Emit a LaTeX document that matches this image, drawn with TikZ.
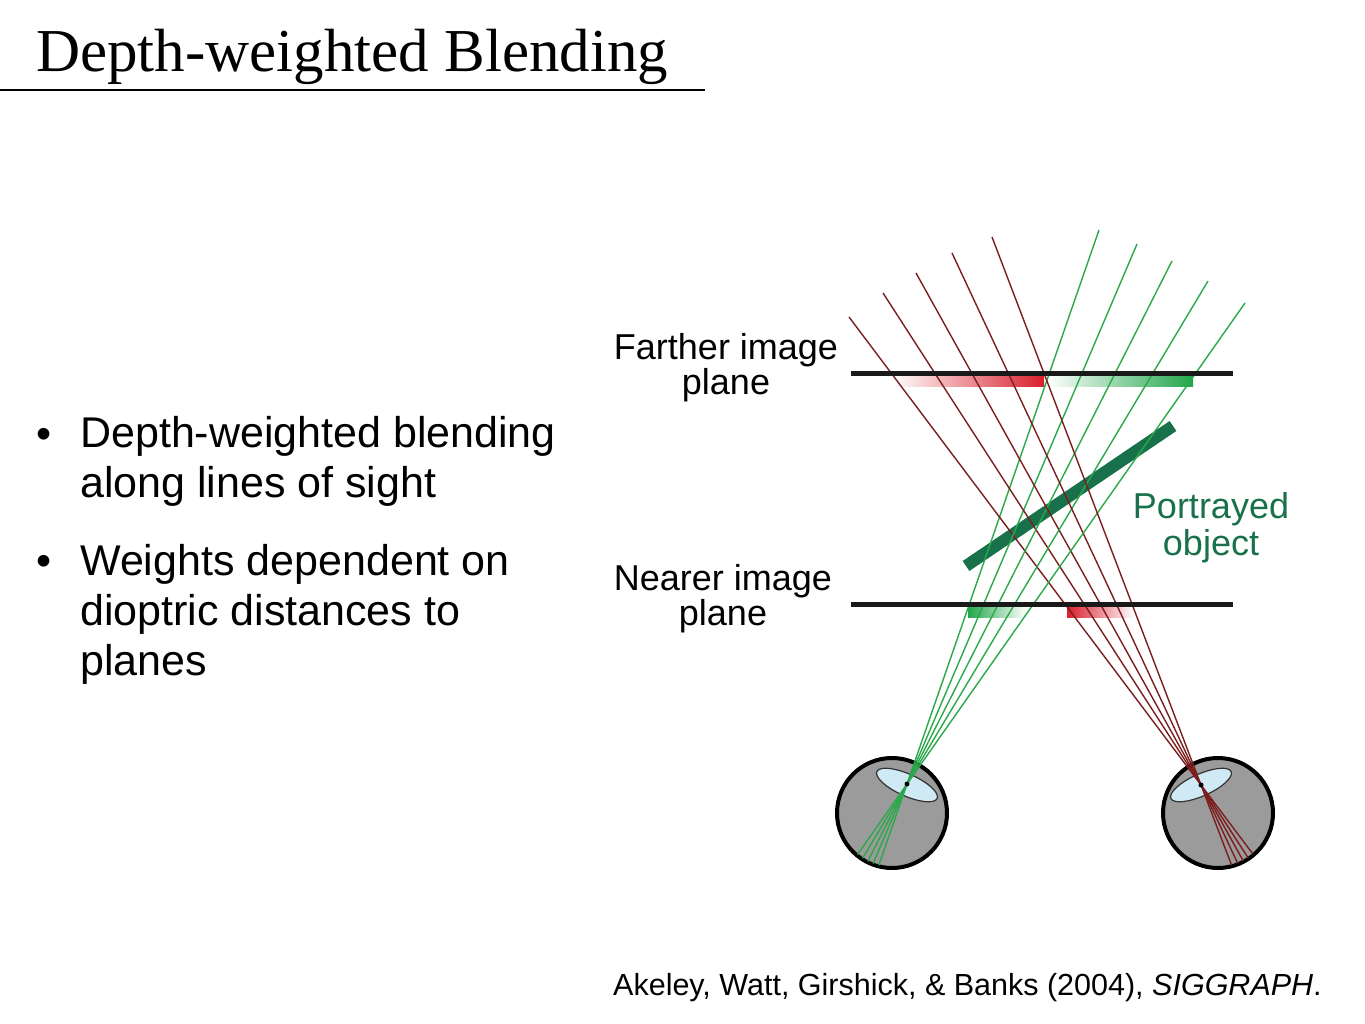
\documentclass[tikz,border=0pt]{standalone}
\usepackage{fontspec}
\setmainfont{Liberation Serif}
\newfontfamily\arial{Liberation Sans}
\usetikzlibrary{calc,shapes.geometric}

\definecolor{barred}{HTML}{D91F2D}
\definecolor{bargreen}{HTML}{22A64B}
\definecolor{rayred}{HTML}{7B1E1E}
\definecolor{raygreen}{HTML}{2BA84A}
\definecolor{objgreen}{HTML}{18714A}
\definecolor{eyegray}{HTML}{9B9B9B}
\definecolor{lensblue}{HTML}{CFEAF4}

\begin{document}
\begin{tikzpicture}[x=1pt, y=-1pt,
  every node/.style={inner sep=0pt},
  planelabel/.style={font=\arial\fontsize{36}{35}\selectfont, align=center, anchor=base},
  bullettext/.style={font=\arial\fontsize{43}{50}\selectfont, align=left, anchor=base west},
  plane/.style={line width=5pt, draw=black!90},
  redray/.style={draw=rayred, line width=1.4pt},
  greenray/.style={draw=raygreen, line width=1.4pt},
  eye/.style={circle, draw, line width=4pt, fill=eyegray, minimum size=110pt},
  lens/.style={ellipse, draw=black!80, line width=1.2pt, fill=lensblue,
    minimum width=66pt, minimum height=22pt}]
  \useasboundingbox (0,0) rectangle (1365,1024);

  % title
  \node[anchor=base west, font=\fontsize{61}{61}\selectfont] (title) at (36,72) {Depth-weighted Blending};
  \draw[line width=1.2pt] (0,90) -- (705,90);

  % bullets (base = last line)
  \node[bullettext] (dot1) at (36,448) {•};
  \node[bullettext] (item1) at (80,497) {Depth-weighted blending\\along lines of sight};
  \node[bullettext] (dot2) at (36,575) {•};
  \node[bullettext] (item2) at (80,675) {Weights dependent on\\dioptric distances to\\planes};

  % labels
  \node[planelabel] (farther) at (726,394) {Farther image\\plane};
  \node[planelabel] (nearer) at (723,625) {Nearer image\\plane};
  \node[planelabel, text=objgreen, font=\arial\fontsize{36}{37}\selectfont] (object) at (1211,555) {Portrayed\\object};

  % blended images on the planes
  \shade[left color=barred!3, right color=barred] (897,375) rectangle (1044,386);
  \shade[left color=white, right color=bargreen] (1047,375) rectangle (1193,386);
  \shade[left color=bargreen, right color=white] (968,606) rectangle (1026,617);
  \shade[left color=barred, right color=white] (1067,606) rectangle (1134,617);

  % portrayed object
  \coordinate (objA) at (966,566);
  \coordinate (objB) at (1173,426);
  \draw[objgreen, line width=12pt] (objA) -- (objB);

  % eyes
  \node[eye] (eyeL) at (892,813) {};
  \node[eye] (eyeR) at (1218,813) {};
  \node[lens, rotate=-24] (lensL) at (907,785) {};
  \node[lens, rotate=24] (lensR) at (1201,785) {};
  \coordinate (nodL) at (907,784);
  \coordinate (nodR) at (1201,785);

  % lines of sight
  \foreach \x/\y [count=\i] in {1099/230, 1137/244, 1172/261, 1208/281, 1245/303}
    \coordinate (g\i) at (\x,\y);
  \foreach \x/\y [count=\i] in {849/317, 883/293, 916/273, 952/253, 992/237}
    \coordinate (r\i) at (\x,\y);
  \foreach \i in {1,...,5} {
    \draw[greenray] (g\i) -- (nodL);
    \draw[redray] (r\i) -- (nodR);
  }
  \begin{scope}
    \clip (eyeL.center) circle (54pt);
    \foreach \i in {1,...,5}
      \draw[greenray] (nodL) -- ($(nodL)!-0.3!(g\i)$);
  \end{scope}
  \begin{scope}
    \clip (eyeR.center) circle (54pt);
    \foreach \i in {1,...,5}
      \draw[redray] (nodR) -- ($(nodR)!-0.3!(r\i)$);
  \end{scope}
  \fill (nodL) circle (2.5pt);
  \fill (nodR) circle (2.5pt);

  % image planes
  \coordinate (farL) at (851,373);
  \coordinate (farR) at (1233,373);
  \coordinate (nearL) at (851,604);
  \coordinate (nearR) at (1233,604);
  \draw[plane] (farL) -- (farR);
  \draw[plane] (nearL) -- (nearR);

  % reference
  \node[anchor=base west, font=\arial\fontsize{30.5}{30.5}\selectfont] (cite) at (613,995)
    {Akeley, Watt, Girshick, \& Banks (2004), \textit{SIGGRAPH}.};
\end{tikzpicture}
\end{document}
